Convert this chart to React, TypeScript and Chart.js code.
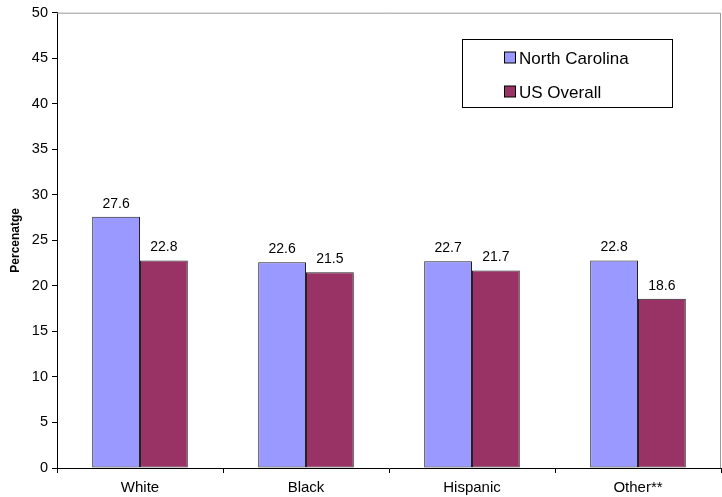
import React, { useEffect, useRef } from "react";
import { Chart, registerables } from "chart.js";

Chart.register(...registerables);

const categories = ["White", "Black", "Hispanic", "Other**"];
const northCarolina = [27.6, 22.6, 22.7, 22.8];
const usOverall = [22.8, 21.5, 21.7, 18.6];
const seriesNames = ["North Carolina", "US Overall"];
const seriesColors = ["#9999FF", "#993366"];
const yTitle = "Percenatge";

const FONT = "'Liberation Sans', Arial, sans-serif";

const extrasPlugin = {
  id: "extras",
  afterDatasetsDraw(chart: any) {
    const ctx = chart.ctx;
    const area = chart.chartArea;
    ctx.save();
    // gray top & right border
    ctx.strokeStyle = "#999999";
    ctx.lineWidth = 1;
    ctx.beginPath();
    ctx.moveTo(area.left, area.top + 0.5);
    ctx.lineTo(area.right - 0.5, area.top + 0.5);
    ctx.lineTo(area.right - 0.5, area.bottom);
    ctx.stroke();

    // data labels
    ctx.fillStyle = "#000";
    ctx.font = `14px ${FONT}`;
    ctx.textAlign = "center";
    ctx.textBaseline = "alphabetic";
    chart.data.datasets.forEach((ds: any, di: number) => {
      const meta = chart.getDatasetMeta(di);
      meta.data.forEach((bar: any, i: number) => {
        ctx.fillText(String(ds.data[i].toFixed(1)), bar.x, bar.y - 9);
      });
    });

    // y title
    ctx.save();
    ctx.translate(16, (area.top + area.bottom) / 2);
    ctx.rotate(-Math.PI / 2);
    ctx.font = `bold 12px ${FONT}`;
    ctx.textAlign = "center";
    ctx.textBaseline = "middle";
    ctx.fillText(yTitle, 0, 0);
    ctx.restore();

    // legend box
    const lx = 462.5, ly = 39.5, lw = 210, lh = 68;
    ctx.fillStyle = "#fff";
    ctx.fillRect(lx, ly, lw, lh);
    ctx.strokeStyle = "#000";
    ctx.lineWidth = 1;
    ctx.strokeRect(lx, ly, lw, lh);
    ctx.font = `17px ${FONT}`;
    ctx.textAlign = "left";
    ctx.textBaseline = "alphabetic";
    const rows = [58, 92];
    seriesNames.forEach((name, i) => {
      const y = rows[i];
      ctx.fillStyle = seriesColors[i];
      ctx.fillRect(504.5, y - 6, 11, 11);
      ctx.strokeStyle = "#000";
      ctx.strokeRect(504.5, y - 6, 11, 11);
      ctx.fillStyle = "#000";
      ctx.fillText(name, 519, y + 6);
    });
    ctx.restore();
  },
};

export default function App() {
  const ref = useRef<HTMLCanvasElement>(null);
  useEffect(() => {
    document.body.style.margin = "0";
    const chart = new Chart(ref.current!, {
      type: "bar",
      data: {
        labels: categories,
        datasets: [
          {
            label: seriesNames[0],
            data: northCarolina,
            backgroundColor: seriesColors[0],
            borderColor: "#222222",
            borderWidth: 1,
            borderSkipped: false,
          },
          {
            label: seriesNames[1],
            data: usOverall,
            backgroundColor: seriesColors[1],
            borderColor: "#222222",
            borderWidth: 1,
            borderSkipped: false,
          },
        ],
      },
      options: {
        animation: false,
        responsive: false,
        devicePixelRatio: 1,
        layout: { padding: { top: 12, right: 1, left: 0, bottom: 0 } },
        plugins: { legend: { display: false }, tooltip: { enabled: false } },
        datasets: { bar: { categoryPercentage: 0.576, barPercentage: 1 } },
        scales: {
          x: {
            offset: true,
            grid: {
              offset: true,
              drawOnChartArea: false,
              drawTicks: true,
              tickLength: 5,
              color: "#000",
            },
            border: { color: "#000", width: 1 },
            ticks: { color: "#000", font: { family: FONT, size: 15 }, padding: 6 },
            afterFit(s: any) {
              s.height = 29;
            },
          },
          y: {
            min: 0,
            max: 50,
            ticks: {
              stepSize: 5,
              color: "#000",
              font: { family: FONT, size: 14.5 },
              padding: 4,
            },
            grid: {
              drawOnChartArea: false,
              drawTicks: true,
              tickLength: 5,
              color: "#000",
            },
            border: { color: "#000", width: 1 },
            afterFit(s: any) {
              s.width = 57;
            },
          },
        },
      },
      plugins: [extrasPlugin],
    });
    return () => chart.destroy();
  }, []);
  return <canvas ref={ref} width={722} height={497} style={{ display: "block" }} />;
}
